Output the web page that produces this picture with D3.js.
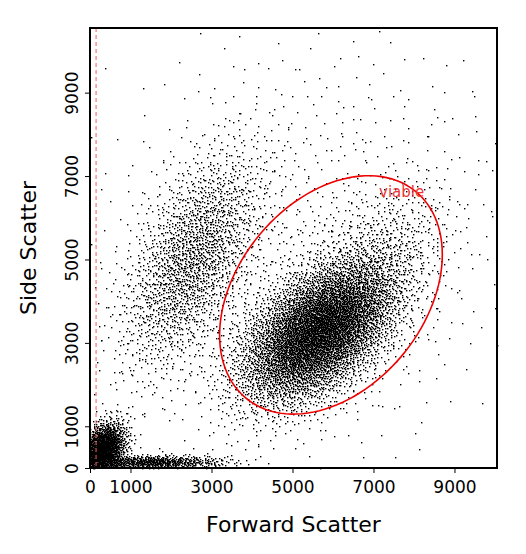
<!DOCTYPE html>
<html><head><meta charset="utf-8">
<script src="https://cdn.jsdelivr.net/npm/d3@7"></script>
<style>body{margin:0;background:#fff}</style></head>
<body><svg id="c" width="526" height="554"></svg>
<script>
const xTicks=[0,1000,3000,5000,7000,9000];
const yTicks=[0,1000,3000,5000,7000,9000];
// populations: [cx, cy, sdx, sdy, corr, count]
const popCenterX=[5650,2500,300,1500,5000,7200];
const popCenterY=[3300,5000,450,150,5000,5200];
const popSdX=[950,850,280,900,2600,900];
const popSdY=[850,1300,320,80,2600,900];
const popCorr=[0.5,0.55,0.3,0,0.2,0.4];
const popCount=[7000,2000,1800,800,1000,500];
const gateCenter=[5950,4150], gateAxes=[3200,2250], gateAngleDeg=46;
const gateName="viable", thresholdX=150;

const svg=d3.select("#c");
const m={l:90,r:29,t:28,b:86};
const W=526-m.l-m.r,H=554-m.t-m.b;
const x=d3.scaleLinear().domain([0,10050]).range([m.l,m.l+W]);
const y=d3.scaleLinear().domain([0,10550]).range([m.t+H,m.t]);
function halton(i,b){let f=1,r=0;while(i>0){f/=b;r+=f*(i%b);i=Math.floor(i/b);}return r;}
const g=svg.append("g");
let k=1;
popCount.forEach((n,p)=>{
  for(let i=0;i<n;i++,k++){
    const u1=Math.max(1e-6,halton(k,2)),u2=halton(k,3);
    const r=Math.sqrt(-2*Math.log(u1));
    const z1=r*Math.cos(2*Math.PI*u2),z2=r*Math.sin(2*Math.PI*u2);
    const c=popCorr[p];
    const dx=popCenterX[p]+popSdX[p]*z1;
    const dy=popCenterY[p]+popSdY[p]*(c*z1+Math.sqrt(1-c*c)*z2);
    if(dx<0||dy<0||dx>10050||dy>10550)continue;
    g.append("rect").attr("x",Math.round(x(dx))).attr("y",Math.round(y(dy))).attr("width",1.4).attr("height",1.4).attr("fill","#000");
  }
});
svg.append("line").attr("x1",x(thresholdX)).attr("x2",x(thresholdX)).attr("y1",m.t).attr("y2",m.t+H)
 .attr("stroke","#f55").attr("stroke-dasharray","4,3");
const a=gateAngleDeg*Math.PI/180;
const pts=d3.range(0,361,3).map(t=>{const th=t*Math.PI/180;
  const ex=gateAxes[0]*Math.cos(th),ey=gateAxes[1]*Math.sin(th);
  const sy=40.5/41.6;
  const rx=ex*Math.cos(a)-ey*Math.sin(a), ry=(ex*Math.sin(a)+ey*Math.cos(a));
  return [x(gateCenter[0]+rx), y(gateCenter[1]+ry/sy)];});
svg.append("path").attr("d",d3.line()(pts)).attr("fill","none").attr("stroke","#e00").attr("stroke-width",1.6);
svg.append("text").attr("x",379).attr("y",197).attr("fill","#e33").attr("font-family","DejaVu Sans").attr("font-size",15).text(gateName);
svg.append("rect").attr("x",m.l).attr("y",m.t).attr("width",W).attr("height",H).attr("fill","none").attr("stroke","#000").attr("stroke-width",2);
const xa=svg.append("g").attr("transform",`translate(0,${m.t+H})`).call(d3.axisBottom(x).tickValues(xTicks).tickSize(5).tickPadding(8).tickFormat(d3.format("d")));
const ya=svg.append("g").attr("transform",`translate(${m.l},0)`).call(d3.axisLeft(y).tickValues(yTicks).tickSize(5).tickFormat(d3.format("d")));
[xa,ya].forEach(s=>{s.select(".domain").remove();s.selectAll("text").attr("font-family","DejaVu Sans").attr("font-size",17).attr("fill","#000");});
ya.selectAll(".tick text").each(function(){const el=d3.select(this);el.attr("text-anchor","middle").attr("x",-18).attr("dy","0.35em").attr("transform","rotate(-90,-18,0)");});
svg.append("text").attr("x",m.l+W/2).attr("y",532).attr("text-anchor","middle").attr("font-family","DejaVu Sans").attr("font-size",22).text("Forward Scatter");
svg.append("text").attr("transform",`translate(36,${m.t+H/2}) rotate(-90)`).attr("text-anchor","middle").attr("font-family","DejaVu Sans").attr("font-size",22).text("Side Scatter");
</script></body></html>
